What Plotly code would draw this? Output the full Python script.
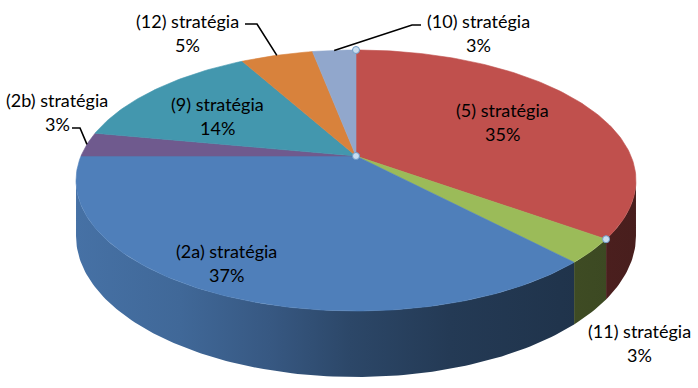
import math
import plotly.graph_objects as go

# ---------------- data ----------------
categories = ["(5) stratégia", "(11) stratégia", "(2a) stratégia", "(2b) stratégia",
              "(9) stratégia", "(12) stratégia", "(10) stratégia"]
values = [35, 3, 37, 3, 14, 5, 3]

# ---------------- style ----------------
top_colors = ["#C0504D", "#9BBB59", "#4F7FBA", "#6F5A8E", "#4397AE", "#D8823C", "#91A7CC"]
CX, CY = 356.0, 156.0       # apex (pie centre) in pixels
A, B = 275.0, 125.9          # projected radii
K = 0.1877                   # perspective factor
H = 53.6                     # depth of the pie
W, HT = 698, 388

# wall shading (fraction of base colour) across x
shade_x = [76, 180, 270, 350, 450, 560, 640]
shade_f = [0.89, 0.82, 0.70, 0.56, 0.46, 0.41, 0.38]

# label placement (pixel anchors) and leader elbows
label_pos = {
    "(5) stratégia": (502, 110),
    "(11) stratégia": (639, 331),
    "(2a) stratégia": (226, 251),
    "(2b) stratégia": (57, 100),
    "(9) stratégia": (217, 104),
    "(12) stratégia": (187, 21),
    "(10) stratégia": (478, 21),
}
leaders = {
    "(2b) stratégia": [(72, 128), (80, 128)],
    "(12) stratégia": [(245, 24), (257, 24)],
    "(10) stratégia": [(421, 25), (412, 25)],
}
FONT = "Lato"
FSIZE = 18


def proj(t_deg, drop=0.0):
    t = math.radians(t_deg)
    X, Y = math.sin(t), math.cos(t)
    den = 1 + K * Y
    return CX + A * X / den, CY - B * Y / den + drop * H / den


def hex2rgb(h):
    h = h.lstrip("#")
    return tuple(int(h[i:i + 2], 16) for i in (0, 2, 4))


total = sum(values)
bounds = [0.0]
for v in values:
    bounds.append(bounds[-1] + 360.0 * v / total)

t_vis = math.degrees(math.acos(-K))
vis_lo, vis_hi = t_vis, 360 - t_vis

fig = go.Figure()

# side walls
for i, (t0, t1) in enumerate(zip(bounds[:-1], bounds[1:])):
    a, b = max(t0, vis_lo), min(t1, vis_hi)
    if b <= a:
        continue
    n = max(4, int((b - a) / 1.0))
    ts = [a + (b - a) * j / n for j in range(n + 1)]
    top = [proj(t) for t in ts]
    bot = [proj(t, 1) for t in reversed(ts)]
    pts = top + bot + [top[0]]
    r, g, bb = hex2rgb(top_colors[i])
    span = shade_x[-1] - shade_x[0]
    cs = [[(x - shade_x[0]) / span,
           "rgb(%d,%d,%d)" % (r * f, g * f, bb * f)] for x, f in zip(shade_x, shade_f)]
    fig.add_trace(go.Scatter(
        x=[p[0] for p in pts], y=[p[1] for p in pts], mode="lines",
        fill="toself", line=dict(width=0), fillcolor=top_colors[i],
        fillgradient=dict(type="horizontal", colorscale=cs,
                          start=shade_x[0], stop=shade_x[-1]),
        hoverinfo="skip", showlegend=False))

# top faces
for i, (t0, t1) in enumerate(zip(bounds[:-1], bounds[1:])):
    n = max(4, int((t1 - t0) / 1.0))
    ts = [t0 + (t1 - t0) * j / n for j in range(n + 1)]
    pts = [(CX, CY)] + [proj(t) for t in ts] + [(CX, CY)]
    fig.add_trace(go.Scatter(
        x=[p[0] for p in pts], y=[p[1] for p in pts], mode="lines",
        fill="toself", line=dict(width=0.6, color=top_colors[i]),
        fillcolor=top_colors[i], name=categories[i],
        hoverinfo="name", showlegend=False))

# leader lines
for i, c in enumerate(categories):
    if c in leaders:
        mid = (bounds[i] + bounds[i + 1]) / 2
        end = proj(mid)
        pts = leaders[c] + [end]
        fig.add_trace(go.Scatter(x=[p[0] for p in pts], y=[p[1] for p in pts],
                                 mode="lines", line=dict(color="black", width=1.6),
                                 hoverinfo="skip", showlegend=False))

# selection handles
hp = [proj(0), (CX, CY), proj(bounds[1])]
fig.add_trace(go.Scatter(x=[p[0] for p in hp], y=[p[1] for p in hp], mode="markers",
                         marker=dict(size=7, color="#C9DDF0",
                                     line=dict(color="#6F9CC6", width=1)),
                         hoverinfo="skip", showlegend=False))

# labels
ann = []
for c, v in zip(categories, values):
    x, y = label_pos[c]
    pct = "%d%%" % round(100 * v / total)
    ann.append(dict(x=x, y=y, text=c, showarrow=False, xanchor="center", yanchor="middle",
                    font=dict(family=FONT, size=FSIZE, color="black")))
    ann.append(dict(x=x, y=y + 24, text=pct, showarrow=False, xanchor="center",
                    yanchor="middle", font=dict(family=FONT, size=FSIZE, color="black")))

fig.update_layout(
    width=W, height=HT, margin=dict(l=0, r=0, t=0, b=0),
    paper_bgcolor="white", plot_bgcolor="white",
    xaxis=dict(range=[0, W], visible=False, fixedrange=True),
    yaxis=dict(range=[HT, 0], visible=False, fixedrange=True),
    annotations=ann, showlegend=False,
)

fig.write_html("out.html", config={"displayModeBar": False},
               post_script="document.body.style.margin='0px';")
